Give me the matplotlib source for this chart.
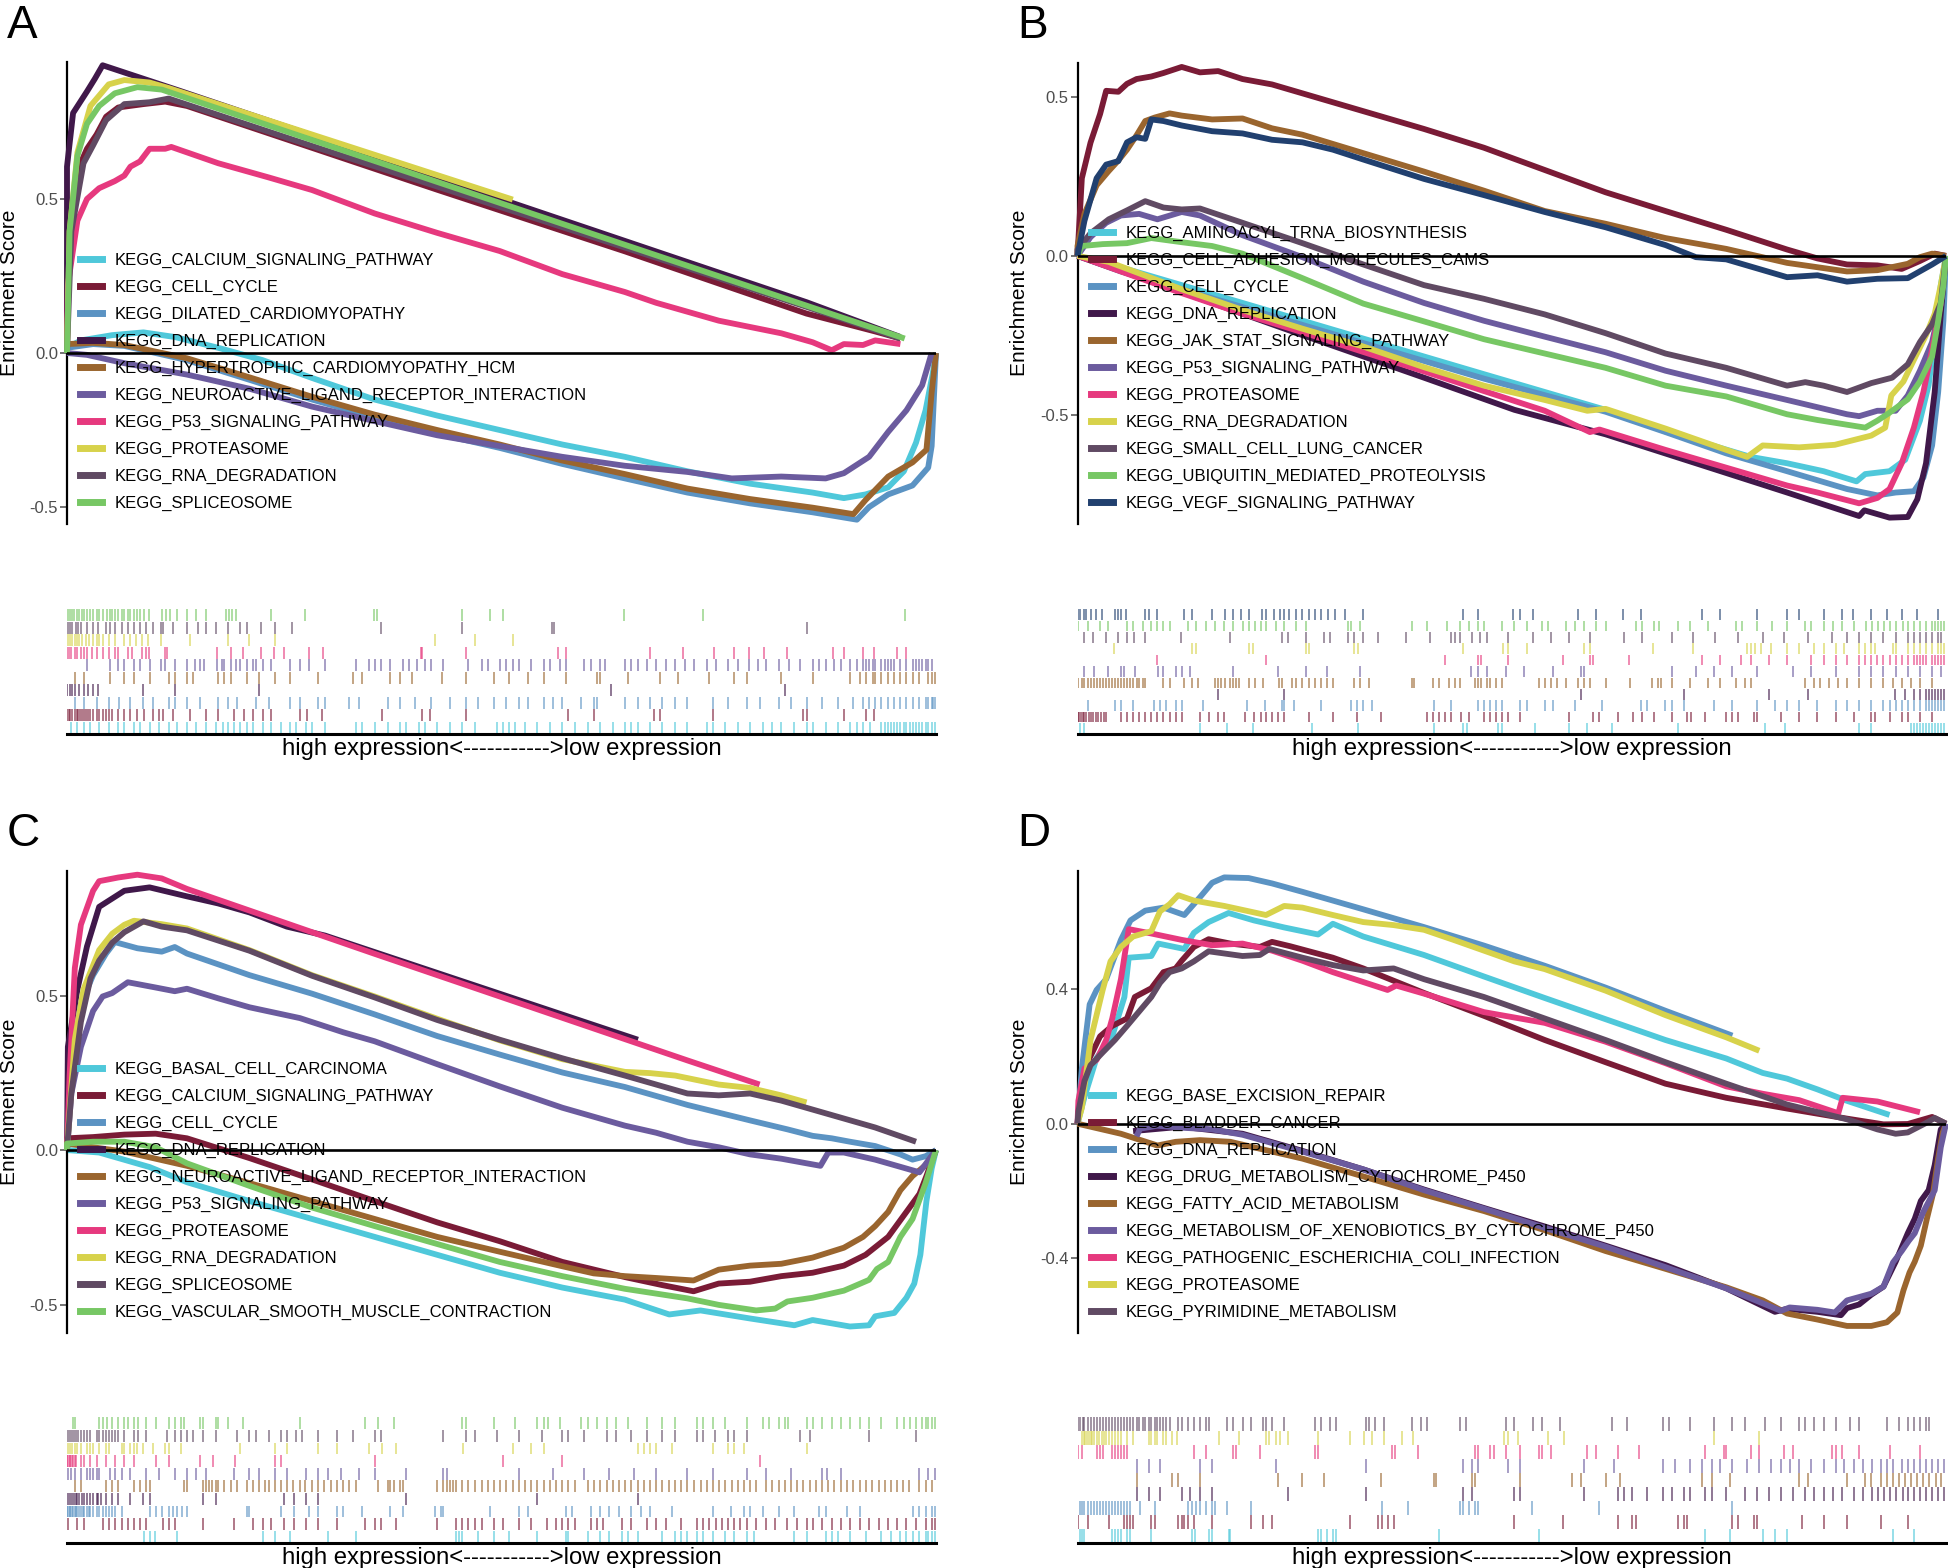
import matplotlib
matplotlib.use("Agg")
import matplotlib.pyplot as plt
from matplotlib.lines import Line2D

plt.rcParams['font.family'] = ['Liberation Sans', 'DejaVu Sans']
plt.rcParams['axes.unicode_minus'] = False

FIG_W, FIG_H = 1949, 1568

# x = position in the ranked gene list (% of list), es = running enrichment score
# hits = positions of the gene-set members in the ranked list (%)

# ---------------- panel A ----------------
a_calcium_x = [0, 1.6, 5.2, 8.8, 12.4, 17.4, 22.5, 28.2, 35.4, 42.6, 49.8, 57.0, 64.2, 71.4, 78.6, 85.8, 89.4, 91.9, 94.5, 96.3, 97.7, 98.8, 99.6, 100]
a_calcium_es = [0.017, 0.041, 0.058, 0.067, 0.052, 0.017, -0.023, -0.081, -0.151, -0.203, -0.250, -0.297, -0.337, -0.384, -0.424, -0.453, -0.471, -0.459, -0.436, -0.384, -0.291, -0.186, -0.070, 0]
a_calcium_hits = [0.5, 1.2, 1.9, 2.7, 3.7, 4.8, 5.9, 6.6, 7.7, 8.4, 9.5, 10.6, 11.7, 12.7, 13.8, 14.9, 16.0, 17.1, 18.0, 18.5, 19.2, 19.9, 20.7, 21.4, 22.5, 23.5, 24.6, 25.7, 26.4, 27.5, 28.2, 29.7, 33.3, 34.0, 35.4, 36.9, 38.3, 39.0, 40.5, 41.2, 42.6, 44.1, 45.5, 46.9, 49.5, 50.2, 50.9, 51.6, 52.7, 54.1, 55.6, 57.0, 58.5, 59.9, 61.3, 62.8, 64.2, 64.9, 65.7, 67.1, 68.5, 70.0, 71.4, 73.6, 74.3, 75.7, 77.2, 78.6, 80.1, 81.1, 82.2, 83.7, 85.1, 85.8, 87.3, 88.7, 90.1, 90.9, 91.6, 92.4, 93.7, 94.1, 94.5, 94.8, 95.2, 95.5, 95.9, 96.3, 96.6, 97.0, 97.3, 97.7, 98.1, 98.4, 98.8, 99.1, 99.5, 99.9]

a_cellcycle_x = [0, 0.1, 1.2, 2.3, 3.4, 4.5, 5.9, 8.8, 11.3, 13.8, 42.6, 64.2, 85.1, 93.0, 95.9]
a_cellcycle_es = [0, 0.337, 0.593, 0.663, 0.709, 0.767, 0.797, 0.808, 0.816, 0.802, 0.530, 0.330, 0.128, 0.070, 0.047]
a_cellcycle_hits = [0, 0.2, 0.4, 0.6, 0.9, 1.1, 1.3, 1.5, 1.7, 1.9, 2.2, 2.4, 2.7, 3.0, 3.4, 3.7, 4.1, 4.5, 4.8, 5.2, 5.9, 6.6, 7.3, 8.1, 8.9, 9.9, 10.6, 11.1, 12.2, 14.2, 16.0, 17.4, 19.2, 20.4, 21.4, 22.5, 23.5, 26.8, 27.6, 29.3, 36.3, 40.8, 41.8, 45.9, 57.6, 60.6, 67.5, 68.2, 74.3, 84.7, 85.1, 89.4, 91.9, 92.9]

a_dilated_x = [0, 3.0, 6.6, 13.8, 21.0, 28.2, 35.4, 42.6, 49.8, 57.0, 64.2, 71.4, 78.6, 85.8, 90.9, 92.3, 94.5, 97.3, 99.1, 99.5, 100]
a_dilated_es = [0.017, 0.029, 0.023, -0.023, -0.087, -0.151, -0.209, -0.262, -0.308, -0.360, -0.407, -0.453, -0.488, -0.517, -0.541, -0.500, -0.459, -0.430, -0.372, -0.302, 0]
a_dilated_hits = [0.9, 1.9, 3.4, 4.8, 6.0, 7.3, 8.8, 9.9, 11.7, 12.4, 13.8, 15.3, 17.4, 18.5, 19.6, 21.7, 23.2, 25.7, 26.8, 28.9, 29.7, 32.5, 33.6, 36.9, 38.3, 40.1, 41.9, 44.1, 45.9, 47.3, 49.1, 50.5, 52.0, 53.1, 54.9, 55.9, 57.0, 59.2, 60.6, 61.0, 64.2, 65.7, 67.1, 68.5, 70.0, 71.4, 74.3, 76.1, 78.3, 79.7, 81.9, 83.3, 85.1, 86.9, 88.7, 90.5, 91.6, 92.3, 93.0, 93.7, 94.5, 95.2, 95.9, 96.6, 97.3, 98.1, 98.8, 99.1, 99.5, 99.7, 99.9]

a_dnarep_x = [0, 0, 0.7, 2.3, 3.2, 4.1, 13.1, 85.1, 95.9]
a_dnarep_es = [0, 0.605, 0.779, 0.849, 0.890, 0.934, 0.850, 0.165, 0.052]
a_dnarep_hits = [0, 0.3, 0.6, 0.9, 1.4, 1.9, 2.4, 3.0, 3.6, 8.8, 12.4, 22.1, 62.6, 82.6]

a_hcm_x = [0, 3.0, 6.6, 13.8, 21.0, 28.2, 35.4, 42.6, 49.8, 57.0, 64.2, 71.4, 78.6, 85.8, 90.5, 91.9, 94.5, 97.3, 98.9, 99.5, 100]
a_hcm_es = [0.029, 0.033, 0.026, -0.017, -0.079, -0.142, -0.200, -0.250, -0.297, -0.349, -0.393, -0.440, -0.474, -0.502, -0.523, -0.477, -0.401, -0.355, -0.314, -0.128, 0]
a_hcm_hits = [0.9, 1.9, 5.0, 6.6, 7.7, 9.5, 11.7, 12.4, 13.8, 14.5, 17.4, 18.1, 18.9, 20.7, 22.1, 23.9, 25.7, 28.9, 32.9, 34.0, 37.2, 38.3, 39.7, 43.2, 45.9, 49.1, 50.9, 53.1, 54.9, 57.4, 61.0, 61.3, 64.6, 68.2, 70.3, 73.9, 76.8, 78.3, 82.2, 85.8, 90.1, 91.2, 91.9, 92.7, 93.0, 93.7, 94.5, 95.2, 95.9, 96.6, 97.3, 98.1, 99.1, 99.5, 99.9]

a_neuro_x = [0, 2.3, 6.6, 13.8, 21.0, 28.2, 35.4, 42.6, 49.8, 57.0, 64.2, 71.4, 76.5, 82.2, 87.3, 89.4, 92.3, 94.5, 96.6, 98.4, 99.5]
a_neuro_es = [0, -0.006, -0.033, -0.070, -0.116, -0.174, -0.221, -0.267, -0.302, -0.337, -0.366, -0.386, -0.407, -0.401, -0.407, -0.390, -0.337, -0.256, -0.186, -0.105, 0.0]
a_neuro_hits = [2.3, 5.0, 5.9, 6.6, 7.7, 8.4, 9.5, 10.8, 11.3, 12.4, 13.8, 14.7, 15.3, 15.8, 17.3, 17.8, 18.1, 18.9, 19.4, 19.9, 20.7, 21.4, 21.7, 22.5, 23.5, 25.7, 26.8, 27.9, 29.7, 33.3, 34.7, 35.4, 36.1, 37.2, 38.7, 39.4, 40.3, 41.2, 41.9, 43.3, 46.2, 47.7, 48.4, 49.8, 50.5, 51.3, 52.0, 53.4, 54.9, 55.6, 56.7, 57.4, 59.5, 60.3, 61.3, 61.9, 64.2, 64.9, 65.7, 66.7, 67.8, 68.9, 70.0, 71.1, 72.1, 73.6, 74.7, 76.1, 77.2, 78.5, 79.5, 80.4, 81.9, 83.1, 84.4, 85.8, 86.5, 87.3, 88.3, 89.1, 90.1, 90.9, 91.6, 91.9, 92.3, 92.7, 93.0, 93.7, 94.1, 94.5, 94.8, 95.2, 95.9, 96.6, 97.3, 97.7, 98.1, 98.4, 98.8, 99.1, 99.5]

a_p53_x = [0, 0.1, 1.2, 2.3, 3.7, 5.5, 6.6, 7.3, 8.4, 9.5, 11.3, 12.0, 17.4, 23.2, 28.2, 35.4, 42.6, 49.8, 57.0, 64.2, 67.8, 75.0, 82.2, 85.8, 88.0, 89.4, 91.6, 93.0, 95.9]
a_p53_es = [0, 0.221, 0.430, 0.500, 0.535, 0.558, 0.576, 0.605, 0.622, 0.663, 0.663, 0.669, 0.616, 0.570, 0.529, 0.453, 0.390, 0.331, 0.256, 0.198, 0.163, 0.105, 0.064, 0.035, 0.009, 0.029, 0.026, 0.041, 0.029]
a_p53_hits = [0, 0.2, 0.5, 0.9, 1.2, 1.6, 1.9, 2.3, 2.9, 3.4, 4.1, 4.8, 5.5, 5.9, 7.0, 7.5, 8.6, 9.1, 9.4, 11.3, 11.5, 17.3, 18.9, 20.3, 22.3, 23.8, 25.0, 27.9, 29.5, 40.7, 40.8, 45.9, 56.5, 57.4, 67.1, 70.9, 74.5, 76.7, 78.5, 80.2, 82.8, 88.2, 89.4, 91.6, 92.9, 95.5, 96.5]

a_proteasome_x = [0, 0.3, 1.2, 2.7, 4.8, 6.6, 9.5, 11.7, 51.3]
a_proteasome_es = [0, 0.395, 0.651, 0.802, 0.872, 0.886, 0.878, 0.860, 0.498]
a_proteasome_hits = [0.1, 0.4, 0.6, 0.9, 1.2, 1.4, 1.7, 2.2, 2.5, 3.0, 3.4, 3.7, 4.2, 4.8, 5.5, 6.6, 7.3, 7.9, 8.6, 9.3, 10.8, 14.2, 18.5, 20.9, 23.9, 42.3, 46.9, 51.3]

a_rnadeg_x = [0, 0.5, 1.9, 3.0, 4.5, 6.6, 9.5, 11.7, 28.2, 56.3, 85.1, 95.9]
a_rnadeg_es = [0, 0.395, 0.616, 0.674, 0.756, 0.808, 0.814, 0.826, 0.672, 0.415, 0.150, 0.047]
a_rnadeg_hits = [0.1, 0.4, 0.6, 1.0, 1.3, 1.6, 2.3, 3.0, 3.6, 4.5, 5.0, 5.5, 6.3, 7.0, 7.7, 8.4, 9.1, 9.9, 10.8, 11.1, 12.2, 13.8, 15.1, 16.0, 17.1, 18.5, 19.9, 20.7, 22.3, 23.9, 25.9, 36.1, 45.4, 55.8, 56.0, 85.2]

a_splice_x = [0, 0.3, 1.2, 2.3, 3.7, 5.5, 8.1, 10.9, 96.4]
a_splice_es = [0, 0.395, 0.640, 0.744, 0.802, 0.843, 0.863, 0.855, 0.047]
a_splice_hits = [0.1, 0.4, 0.6, 0.8, 1.1, 1.4, 1.7, 1.9, 2.3, 2.7, 3.0, 3.4, 3.7, 4.1, 4.6, 4.9, 5.2, 5.5, 5.9, 6.3, 6.6, 7.0, 7.3, 7.7, 8.1, 8.4, 8.9, 9.4, 10.9, 11.4, 11.8, 12.7, 13.8, 14.9, 16.0, 18.3, 18.6, 19.0, 19.4, 23.5, 27.4, 35.3, 35.7, 45.5, 48.7, 50.2, 64.1, 73.2, 96.4]

# ---------------- panel B ----------------
b_aminoacyl_x = [0, 5.0, 19.0, 32.9, 46.8, 60.8, 67.7, 77.5, 81.7, 85.9, 89.7, 90.7, 93.5, 95.3, 97.0, 98.0, 98.7, 99.4, 100]
b_aminoacyl_es = [0, -0.036, -0.148, -0.260, -0.372, -0.484, -0.552, -0.632, -0.652, -0.677, -0.709, -0.686, -0.677, -0.641, -0.518, -0.406, -0.260, -0.092, 0]
b_aminoacyl_hits = [0.3, 0.7, 14.1, 17.2, 20.2, 27.0, 32.3, 41.1, 44.4, 44.9, 48.4, 48.9, 52.7, 56.6, 58.7, 61.5, 69.1, 79.2, 81.5, 90.0, 91.4, 96.0, 96.3, 96.7, 97.0, 97.4, 97.7, 98.1, 98.4, 98.7, 99.1, 99.4, 99.8]

b_celladh_x = [0, 0.5, 1.5, 2.6, 3.3, 4.7, 5.7, 6.8, 8.5, 9.9, 12.0, 14.1, 16.2, 19.0, 22.4, 25.9, 32.9, 39.9, 46.8, 53.8, 60.8, 67.7, 74.7, 81.7, 85.2, 88.6, 92.1, 94.9, 97.0, 98.7, 100]
b_celladh_es = [0, 0.244, 0.356, 0.446, 0.519, 0.516, 0.541, 0.556, 0.564, 0.575, 0.594, 0.577, 0.581, 0.556, 0.539, 0.511, 0.455, 0.399, 0.340, 0.270, 0.200, 0.141, 0.082, 0.020, -0.008, -0.027, -0.030, -0.041, -0.016, 0.007, 0]
b_celladh_hits = [0, 0.2, 0.4, 0.6, 0.8, 1.0, 1.3, 1.5, 1.8, 2.1, 2.4, 2.7, 3.0, 3.3, 5.0, 5.7, 6.4, 7.1, 7.8, 8.5, 9.2, 9.9, 10.6, 11.3, 12.0, 14.1, 15.1, 16.2, 16.9, 19.3, 20.3, 21.1, 21.7, 22.4, 23.1, 23.8, 26.6, 29.4, 32.2, 35.0, 40.2, 40.9, 41.6, 42.3, 43.0, 44.1, 45.1, 46.8, 47.5, 48.2, 48.9, 49.6, 51.0, 56.6, 59.4, 60.1, 62.2, 64.0, 65.0, 66.4, 68.5, 70.2, 70.6, 72.3, 74.7, 75.4, 76.1, 77.9, 78.2, 81.0, 83.1, 85.2, 87.3, 89.4, 91.4, 91.8, 93.5, 94.9, 95.6, 97.0, 98.4]

b_cellcycle_x = [0, 5.0, 19.0, 32.9, 46.8, 60.8, 67.7, 74.7, 81.7, 88.6, 92.1, 94.2, 96.3, 97.4, 98.4, 99.1, 99.7, 100]
b_cellcycle_es = [0, -0.049, -0.161, -0.274, -0.386, -0.490, -0.554, -0.621, -0.677, -0.733, -0.753, -0.744, -0.740, -0.697, -0.596, -0.428, -0.204, 0]
b_cellcycle_hits = [1.2, 4.3, 5.0, 6.4, 8.8, 9.5, 10.2, 11.3, 12.0, 14.4, 19.5, 21.6, 23.5, 23.8, 24.9, 28.0, 31.5, 32.2, 32.9, 33.9, 41.1, 43.0, 46.1, 46.8, 47.5, 48.2, 48.9, 51.0, 51.7, 53.8, 54.8, 57.3, 60.4, 64.9, 65.6, 67.7, 68.4, 69.8, 73.3, 75.4, 78.2, 80.3, 81.7, 83.1, 85.2, 87.3, 88.6, 90.0, 91.4, 92.8, 93.5, 94.2, 94.9, 95.6, 96.3, 97.0, 97.7, 98.0, 98.4, 98.7, 99.1, 99.4, 99.8]

b_dnarep_x = [0, 12.0, 25.9, 39.9, 50.3, 60.8, 71.2, 81.7, 90.0, 90.6, 93.5, 95.6, 96.7, 97.7, 98.7, 99.4, 100]
b_dnarep_es = [0, -0.114, -0.249, -0.383, -0.484, -0.561, -0.652, -0.744, -0.818, -0.800, -0.823, -0.821, -0.765, -0.652, -0.428, -0.182, 0]
b_dnarep_hits = [16.2, 23.8, 58.0, 69.8, 79.6, 84.1, 94.1, 95.3, 96.3, 97.0, 97.7, 98.0, 98.4, 98.7, 99.1, 99.4, 99.8]

b_jak_x = [0, 0, 0.8, 2.2, 3.6, 4.7, 5.7, 6.8, 7.8, 8.9, 10.6, 12.0, 15.5, 19.0, 22.4, 25.9, 32.9, 39.9, 46.8, 53.8, 60.8, 67.7, 74.7, 81.7, 88.6, 92.1, 95.6, 97.0, 98.4, 100]
b_jak_es = [0, 0.031, 0.132, 0.222, 0.267, 0.300, 0.334, 0.379, 0.424, 0.435, 0.448, 0.441, 0.429, 0.432, 0.401, 0.381, 0.323, 0.265, 0.205, 0.141, 0.101, 0.056, 0.022, -0.022, -0.049, -0.045, -0.025, -0.004, 0.007, 0]
b_jak_hits = [0.1, 0.5, 0.8, 1.2, 1.5, 1.9, 2.2, 2.6, 2.9, 3.3, 3.6, 4.0, 4.3, 4.7, 5.0, 5.4, 5.7, 6.1, 6.4, 6.8, 7.1, 7.5, 7.8, 9.8, 10.6, 12.3, 13.2, 13.9, 15.8, 16.2, 16.5, 17.0, 17.6, 17.9, 18.3, 18.6, 19.7, 20.4, 21.4, 23.2, 23.5, 24.7, 25.2, 25.9, 26.6, 27.3, 28.0, 28.7, 29.4, 31.8, 32.5, 33.6, 38.5, 38.8, 40.9, 41.6, 42.8, 43.5, 44.0, 45.8, 46.1, 46.5, 47.2, 47.5, 48.2, 48.9, 53.1, 53.8, 54.5, 55.2, 56.2, 57.6, 58.3, 59.0, 60.8, 63.6, 66.1, 66.8, 67.2, 68.5, 70.5, 72.6, 74.0, 75.8, 76.8, 77.5, 83.8, 84.8, 85.5, 86.5, 87.6, 88.6, 90.0, 91.4, 92.8, 93.9, 94.9, 96.0, 97.0, 98.4]

b_p53_x = [0, 1.5, 3.3, 5.0, 7.1, 9.2, 12.0, 14.1, 19.0, 25.9, 32.9, 39.9, 46.8, 53.8, 60.8, 67.7, 74.7, 81.7, 88.6, 90.0, 92.1, 94.2, 95.6, 97.0, 98.4, 99.4, 100]
b_p53_es = [0, 0.059, 0.104, 0.127, 0.132, 0.115, 0.138, 0.127, 0.065, -0.004, -0.081, -0.148, -0.204, -0.254, -0.303, -0.361, -0.408, -0.453, -0.498, -0.504, -0.487, -0.487, -0.439, -0.361, -0.271, -0.148, 0]
b_p53_hits = [0.7, 1.9, 3.5, 5.0, 5.4, 6.6, 9.3, 9.9, 11.3, 12.0, 13.0, 17.9, 23.1, 26.3, 28.7, 32.5, 45.3, 46.1, 47.2, 49.3, 51.4, 54.8, 58.0, 58.3, 68.4, 71.2, 73.3, 75.4, 78.2, 82.4, 84.5, 87.3, 90.0, 91.4, 92.8, 94.2, 95.6, 97.0, 98.4, 99.4]

b_proteasome_x = [0, 5.0, 12.0, 19.0, 25.9, 32.9, 39.9, 46.8, 53.8, 59.0, 60.1, 67.7, 74.7, 81.7, 85.2, 90.0, 92.1, 93.5, 94.9, 96.3, 97.4, 98.4, 99.4, 100]
b_proteasome_es = [0, -0.049, -0.117, -0.182, -0.240, -0.302, -0.363, -0.425, -0.487, -0.554, -0.546, -0.610, -0.666, -0.722, -0.744, -0.778, -0.761, -0.733, -0.652, -0.540, -0.428, -0.294, -0.148, 0]
b_proteasome_hits = [9.2, 21.7, 42.3, 46.1, 46.5, 49.6, 55.9, 59.0, 59.4, 63.5, 71.9, 74.0, 76.4, 77.5, 79.6, 81.7, 84.5, 85.9, 87.3, 88.6, 90.0, 90.7, 91.4, 92.1, 92.8, 93.5, 94.2, 94.9, 95.6, 96.3, 96.7, 97.0, 97.4, 97.7, 98.4, 98.7, 99.1, 99.4, 99.8]

b_rnadeg_x = [0, 3.6, 12.0, 19.0, 25.9, 32.9, 39.9, 46.8, 53.8, 58.7, 60.8, 67.7, 74.7, 77.1, 78.9, 83.1, 87.2, 91.4, 93.0, 93.7, 95.1, 96.3, 97.7, 98.7, 99.4, 100]
b_rnadeg_es = [0, -0.019, -0.105, -0.170, -0.229, -0.285, -0.350, -0.408, -0.453, -0.487, -0.481, -0.543, -0.610, -0.632, -0.596, -0.602, -0.594, -0.565, -0.540, -0.439, -0.395, -0.327, -0.249, -0.182, -0.092, 0]
b_rnadeg_hits = [4.2, 13.2, 13.7, 19.8, 20.2, 26.3, 26.6, 31.8, 32.3, 44.4, 49.0, 49.6, 51.8, 58.3, 59.0, 66.3, 70.9, 77.1, 77.5, 78.0, 78.7, 79.9, 81.7, 83.1, 84.8, 85.9, 87.3, 88.3, 90.0, 90.7, 91.4, 91.8, 93.9, 94.3, 95.6, 96.3, 97.0, 97.7, 98.4, 99.1, 99.4, 99.8]

b_smallcell_x = [0, 0, 1.5, 3.6, 5.7, 7.8, 9.9, 12.0, 14.1, 19.0, 25.9, 32.9, 39.9, 46.8, 53.8, 60.8, 67.7, 74.7, 81.7, 83.8, 85.9, 88.6, 91.4, 93.8, 95.6, 97.0, 98.4, 99.4, 100]
b_smallcell_es = [0, 0.020, 0.071, 0.115, 0.143, 0.172, 0.152, 0.146, 0.149, 0.104, 0.040, -0.027, -0.092, -0.135, -0.184, -0.243, -0.307, -0.352, -0.408, -0.397, -0.408, -0.428, -0.400, -0.383, -0.341, -0.271, -0.215, -0.148, 0]
b_smallcell_hits = [0.7, 1.8, 3.3, 4.7, 5.7, 6.5, 7.8, 11.9, 17.6, 23.5, 24.2, 26.3, 28.4, 29.1, 31.2, 31.8, 32.9, 34.6, 37.8, 40.6, 43.0, 43.5, 44.0, 45.4, 46.3, 47.2, 49.6, 52.4, 54.5, 56.6, 59.0, 62.9, 65.0, 68.4, 70.9, 73.4, 76.1, 78.9, 81.3, 84.1, 86.9, 88.6, 90.0, 91.4, 92.8, 94.2, 95.6, 96.3, 97.0, 97.7, 98.4, 99.1, 99.4]

b_ubiq_x = [0, 0.5, 2.9, 5.7, 8.5, 12.0, 15.5, 19.0, 25.9, 32.9, 39.9, 46.8, 53.8, 60.8, 67.7, 74.7, 81.7, 85.2, 90.7, 92.1, 93.5, 95.6, 97.0, 98.4, 99.1, 99.7, 100]
b_ubiq_es = [0, 0.031, 0.037, 0.040, 0.056, 0.043, 0.031, 0.007, -0.070, -0.150, -0.206, -0.262, -0.307, -0.352, -0.408, -0.442, -0.498, -0.516, -0.540, -0.518, -0.493, -0.451, -0.395, -0.316, -0.204, -0.092, 0]
b_ubiq_hits = [0.1, 1.2, 2.6, 3.5, 5.7, 6.4, 7.5, 8.5, 9.1, 9.9, 10.6, 12.7, 13.7, 14.8, 15.8, 16.9, 17.9, 19.0, 19.7, 20.4, 21.1, 21.7, 22.8, 23.8, 25.2, 26.3, 31.1, 31.5, 32.5, 38.5, 40.2, 42.6, 44.0, 45.1, 46.1, 46.8, 48.9, 50.3, 51.7, 53.5, 54.2, 56.2, 57.3, 58.3, 59.7, 60.8, 64.3, 65.0, 66.4, 67.0, 69.1, 70.5, 72.6, 75.8, 76.5, 78.2, 80.0, 81.7, 83.8, 84.5, 85.9, 87.0, 88.0, 89.4, 90.8, 91.5, 92.2, 92.9, 93.6, 94.3, 95.0, 95.6, 96.3, 97.0, 97.7, 98.4, 98.7, 99.1, 99.4, 99.8]

b_vegf_x = [0, 0.8, 2.2, 3.3, 4.7, 5.7, 6.8, 7.8, 8.5, 9.9, 12.0, 15.5, 19.0, 22.4, 25.9, 29.4, 32.9, 39.9, 46.8, 53.8, 60.8, 67.7, 71.2, 74.7, 81.7, 85.2, 88.6, 92.1, 95.6, 98.4, 100]
b_vegf_es = [0, 0.110, 0.244, 0.287, 0.298, 0.357, 0.373, 0.368, 0.429, 0.424, 0.410, 0.392, 0.385, 0.365, 0.357, 0.334, 0.303, 0.242, 0.191, 0.138, 0.090, 0.034, -0.004, -0.011, -0.067, -0.061, -0.081, -0.072, -0.070, -0.027, 0]
b_vegf_hits = [0, 0.3, 0.7, 1.0, 1.5, 2.1, 2.8, 4.3, 4.7, 5.0, 5.6, 7.8, 8.2, 9.1, 12.3, 13.2, 15.5, 17.0, 17.9, 18.8, 19.7, 21.2, 21.7, 22.6, 23.3, 23.8, 24.4, 25.2, 25.9, 26.6, 27.3, 28.0, 28.8, 29.7, 30.8, 32.9, 44.4, 46.1, 50.2, 50.9, 52.4, 57.6, 59.7, 62.8, 64.9, 71.9, 74.0, 78.2, 81.7, 83.1, 85.9, 88.0, 89.3, 91.4, 93.2, 94.9, 96.7, 99.1]

# ---------------- panel C ----------------
c_basal_x = [0, 3.7, 9.5, 13.8, 21.0, 28.2, 35.4, 42.6, 49.8, 57.0, 64.2, 69.3, 72.9, 78.6, 83.7, 85.8, 90.1, 92.3, 93.0, 95.2, 96.6, 97.5, 98.2, 98.9, 99.5, 100]
c_basal_es = [0, -0.008, -0.055, -0.104, -0.165, -0.223, -0.281, -0.339, -0.397, -0.445, -0.484, -0.532, -0.519, -0.545, -0.567, -0.550, -0.571, -0.567, -0.538, -0.527, -0.478, -0.432, -0.339, -0.165, -0.060, 0]
c_basal_hits = [8.9, 9.5, 10.1, 12.7, 22.5, 23.9, 25.7, 30.0, 33.3, 44.8, 45.1, 45.5, 47.3, 49.1, 50.9, 54.1, 57.4, 57.7, 59.9, 61.3, 62.4, 63.9, 64.6, 65.7, 68.5, 70.0, 70.7, 71.4, 72.5, 73.2, 74.3, 75.7, 76.8, 78.3, 79.0, 83.7, 85.1, 87.3, 88.0, 88.7, 90.1, 91.9, 93.7, 94.8, 95.9, 96.6, 97.3, 98.1, 98.8, 99.1, 99.5, 99.9]

c_calcium_x = [0, 0, 3.0, 6.6, 10.2, 13.8, 21.0, 28.2, 35.4, 42.6, 49.8, 57.0, 64.2, 68.5, 72.1, 75.0, 78.6, 82.2, 85.8, 89.4, 91.9, 94.5, 96.6, 98.1, 98.9, 99.5, 100]
c_calcium_es = [0, 0.038, 0.042, 0.050, 0.053, 0.038, -0.026, -0.095, -0.165, -0.234, -0.295, -0.362, -0.411, -0.437, -0.457, -0.432, -0.426, -0.408, -0.397, -0.374, -0.339, -0.281, -0.200, -0.142, -0.084, -0.037, 0]
c_calcium_hits = [0.1, 1.2, 1.9, 4.1, 4.8, 5.5, 6.3, 7.0, 7.7, 8.4, 9.1, 11.1, 11.7, 12.4, 15.6, 19.2, 21.4, 22.5, 23.5, 25.0, 26.1, 27.5, 28.9, 31.1, 34.3, 35.4, 36.1, 37.9, 42.6, 44.8, 45.5, 46.2, 46.9, 47.7, 49.1, 50.2, 52.0, 53.4, 55.2, 56.3, 57.0, 57.7, 58.5, 60.3, 61.0, 61.7, 63.9, 64.9, 66.7, 67.8, 68.9, 70.7, 72.5, 73.2, 73.9, 74.7, 75.4, 76.1, 76.8, 77.5, 78.3, 79.3, 80.4, 81.5, 82.9, 84.0, 85.1, 85.8, 86.9, 88.0, 89.1, 90.1, 91.2, 92.3, 93.4, 94.5, 95.5, 96.6, 97.7, 98.8, 99.5, 99.9]

c_cellcycle_x = [0, 0.5, 1.6, 3.0, 4.5, 5.5, 8.1, 10.9, 12.4, 13.8, 21.0, 28.2, 35.4, 42.6, 49.8, 57.0, 64.2, 71.4, 78.6, 82.9, 85.8, 88.0, 90.1, 93.0, 95.9, 97.3, 98.8, 100]
c_cellcycle_es = [0, 0.241, 0.473, 0.566, 0.636, 0.673, 0.653, 0.642, 0.657, 0.636, 0.566, 0.506, 0.439, 0.369, 0.309, 0.251, 0.204, 0.146, 0.096, 0.067, 0.046, 0.038, 0.027, 0.013, -0.014, -0.031, -0.020, 0]
c_cellcycle_hits = [0, 0.1, 0.3, 0.4, 0.6, 0.7, 0.9, 1.0, 1.2, 1.4, 1.6, 1.8, 2.0, 2.3, 2.5, 2.7, 3.0, 3.4, 3.7, 4.1, 4.5, 4.8, 5.2, 5.5, 6.3, 9.5, 10.2, 10.9, 11.7, 12.2, 12.7, 13.2, 13.8, 20.7, 21.0, 24.6, 26.1, 27.9, 28.9, 31.1, 31.8, 34.0, 37.2, 38.7, 42.3, 43.0, 43.3, 48.7, 52.0, 53.1, 57.4, 58.1, 60.3, 61.3, 62.4, 63.5, 64.9, 66.0, 67.1, 69.6, 74.3, 76.4, 77.9, 78.6, 80.1, 81.9, 83.7, 86.5, 87.3, 89.8, 91.2, 97.3, 98.1, 98.8, 99.5, 99.9]

c_dnarep_x = [0, 0.1, 1.2, 2.3, 3.7, 6.6, 9.5, 13.8, 17.4, 21.0, 25.3, 29.7, 65.7]
c_dnarep_es = [0, 0.334, 0.520, 0.659, 0.787, 0.839, 0.850, 0.821, 0.798, 0.769, 0.723, 0.694, 0.357]
c_dnarep_hits = [0.1, 0.4, 0.6, 0.8, 1.0, 1.2, 1.4, 1.7, 2.0, 2.3, 2.7, 3.0, 3.4, 3.6, 3.9, 4.5, 5.2, 5.9, 7.3, 8.8, 9.5, 15.6, 17.1, 25.0, 26.1, 27.5, 28.9, 39.0, 54.1, 65.7]

c_neuro_x = [0, 0, 3.0, 6.6, 13.8, 21.0, 28.2, 35.4, 42.6, 49.8, 57.0, 60.6, 64.2, 67.8, 72.1, 75.0, 78.6, 82.2, 85.8, 89.4, 91.6, 93.0, 94.5, 95.9, 97.3, 98.8, 100]
c_neuro_es = [0, 0.021, 0.009, -0.005, -0.051, -0.107, -0.165, -0.223, -0.281, -0.329, -0.376, -0.399, -0.408, -0.414, -0.422, -0.387, -0.374, -0.368, -0.348, -0.316, -0.281, -0.246, -0.200, -0.130, -0.084, -0.049, 0]
c_neuro_hits = [0.9, 1.6, 4.5, 5.2, 5.9, 7.7, 8.4, 9.1, 9.5, 13.5, 13.8, 15.6, 16.0, 16.3, 16.7, 17.1, 17.4, 18.1, 18.9, 19.6, 20.7, 21.4, 22.1, 22.8, 23.2, 23.9, 24.6, 25.3, 26.0, 26.8, 27.4, 28.2, 28.9, 29.6, 30.4, 31.1, 31.8, 32.5, 33.3, 35.8, 36.9, 37.2, 37.6, 38.3, 38.7, 42.6, 43.3, 43.7, 44.1, 44.4, 44.8, 45.5, 46.2, 46.9, 47.7, 48.4, 49.1, 49.8, 50.5, 51.3, 52.0, 52.7, 53.4, 54.1, 54.9, 55.6, 56.3, 57.0, 57.7, 58.5, 59.9, 60.6, 61.3, 62.1, 62.8, 63.5, 64.2, 64.9, 65.7, 66.4, 67.1, 67.8, 68.5, 69.3, 70.0, 70.7, 71.4, 72.1, 72.9, 73.6, 74.3, 75.0, 75.7, 76.5, 77.2, 77.9, 78.6, 79.3, 80.4, 81.1, 81.9, 82.6, 83.3, 84.0, 84.7, 85.5, 86.2, 86.9, 87.6, 88.3, 89.1, 89.8, 90.5, 91.2, 91.9, 92.6, 93.4, 94.1, 94.8, 95.5, 96.2, 96.9, 98.0, 98.8, 99.5]

c_p53_x = [0, 0.5, 1.6, 3.0, 4.1, 5.2, 7.0, 10.2, 12.4, 13.8, 17.4, 21.0, 26.8, 31.8, 35.4, 42.6, 49.8, 57.0, 64.2, 67.8, 71.4, 75.0, 78.6, 82.2, 86.7, 87.6, 89.4, 93.0, 98.1, 100]
c_p53_es = [0, 0.183, 0.334, 0.450, 0.497, 0.508, 0.543, 0.526, 0.514, 0.522, 0.491, 0.462, 0.427, 0.381, 0.352, 0.278, 0.206, 0.137, 0.079, 0.056, 0.027, 0.009, -0.014, -0.028, -0.051, -0.008, -0.008, -0.031, -0.072, 0]
c_p53_hits = [0.1, 0.5, 0.9, 1.6, 2.3, 2.7, 3.0, 3.4, 3.7, 5.0, 5.5, 6.3, 7.3, 9.1, 10.6, 12.4, 13.8, 14.9, 16.0, 19.2, 21.0, 22.1, 23.9, 25.3, 27.5, 28.9, 30.0, 31.5, 33.6, 35.4, 39.0, 43.3, 43.7, 52.0, 55.9, 59.5, 62.4, 65.3, 67.8, 71.4, 74.3, 78.3, 80.4, 83.3, 86.9, 87.4, 89.1, 98.1, 99.1, 99.9]

c_proteasome_x = [0, 0.3, 0.9, 1.6, 3.0, 3.7, 5.9, 8.1, 10.9, 13.8, 21.0, 28.2, 35.4, 42.6, 49.8, 57.0, 64.2, 71.4, 79.7]
c_proteasome_es = [0, 0.241, 0.589, 0.729, 0.839, 0.870, 0.882, 0.891, 0.879, 0.845, 0.775, 0.705, 0.635, 0.566, 0.497, 0.428, 0.359, 0.290, 0.212]
c_proteasome_hits = [0, 0.1, 0.3, 0.4, 0.6, 0.7, 0.9, 1.0, 1.6, 1.9, 2.7, 3.4, 4.5, 5.5, 6.6, 7.7, 10.2, 11.7, 15.3, 16.8, 19.3, 23.9, 24.6, 35.4, 50.2, 57.0, 79.7]

c_rnadeg_x = [0, 0.3, 0.9, 1.9, 3.7, 5.2, 6.6, 7.7, 10.9, 13.8, 21.0, 28.2, 35.4, 42.6, 49.8, 57.0, 64.2, 67.1, 70.0, 75.0, 78.6, 82.2, 85.1]
c_rnadeg_es = [0, 0.125, 0.357, 0.520, 0.647, 0.700, 0.729, 0.742, 0.731, 0.717, 0.647, 0.566, 0.497, 0.425, 0.355, 0.294, 0.253, 0.249, 0.241, 0.212, 0.201, 0.177, 0.154]
c_rnadeg_hits = [0.1, 0.4, 0.6, 0.9, 1.2, 1.6, 2.3, 2.7, 3.0, 3.7, 4.5, 4.8, 6.3, 6.6, 7.3, 7.7, 8.1, 8.8, 9.9, 11.3, 11.7, 13.1, 19.9, 23.9, 25.3, 28.9, 31.1, 34.7, 36.3, 37.9, 45.6, 51.3, 53.4, 54.9, 65.7, 66.4, 67.1, 67.8, 69.6, 74.3, 76.1, 76.8, 77.9, 85.1]

c_splice_x = [0, 0.5, 1.6, 2.7, 3.7, 5.2, 6.6, 8.8, 10.9, 13.8, 21.0, 28.2, 35.4, 42.6, 49.8, 57.0, 64.2, 71.4, 75.0, 78.6, 82.2, 85.8, 89.4, 93.0, 97.7]
c_splice_es = [0, 0.183, 0.415, 0.555, 0.613, 0.671, 0.705, 0.740, 0.723, 0.711, 0.645, 0.564, 0.494, 0.421, 0.357, 0.297, 0.241, 0.183, 0.177, 0.183, 0.160, 0.131, 0.102, 0.073, 0.027]
c_splice_hits = [0.1, 0.4, 0.6, 0.8, 1.0, 1.3, 1.6, 1.9, 2.3, 2.7, 3.4, 3.7, 4.1, 4.5, 4.8, 5.2, 5.5, 5.9, 6.6, 7.7, 8.2, 9.1, 11.5, 12.4, 13.1, 13.8, 14.5, 15.6, 17.1, 19.6, 21.0, 21.7, 23.2, 24.6, 25.3, 26.4, 27.1, 28.9, 31.1, 32.9, 35.4, 36.1, 43.3, 45.9, 47.0, 49.5, 52.0, 54.7, 57.0, 57.7, 59.5, 62.1, 63.2, 64.9, 66.7, 68.5, 70.0, 72.5, 73.2, 74.6, 76.1, 76.8, 78.3, 84.4, 85.5, 92.3, 97.7]

c_vascular_x = [0, 0, 3.0, 6.6, 10.2, 13.8, 21.0, 28.2, 35.4, 42.6, 49.8, 57.0, 64.2, 71.4, 75.0, 79.3, 81.5, 82.9, 85.8, 89.4, 92.3, 93.2, 94.5, 95.9, 97.3, 98.8, 100]
c_vascular_es = [0, 0.021, 0.027, 0.027, 0.009, -0.043, -0.116, -0.186, -0.246, -0.304, -0.362, -0.408, -0.449, -0.480, -0.501, -0.519, -0.513, -0.490, -0.478, -0.455, -0.420, -0.385, -0.362, -0.281, -0.223, -0.107, 0]
c_vascular_hits = [0.7, 0.9, 3.7, 4.1, 4.6, 5.2, 5.9, 6.6, 7.0, 7.7, 8.2, 9.1, 10.2, 11.7, 12.4, 13.1, 13.5, 15.3, 15.6, 17.1, 17.4, 18.5, 20.3, 26.8, 34.3, 35.8, 37.6, 45.5, 45.9, 49.1, 51.6, 54.1, 54.9, 55.4, 56.7, 59.2, 59.9, 61.0, 62.1, 63.2, 64.6, 66.7, 68.5, 70.0, 72.5, 73.2, 74.3, 75.7, 78.3, 80.1, 80.8, 81.9, 82.6, 83.0, 85.1, 85.8, 86.9, 88.0, 89.1, 90.1, 91.2, 92.3, 93.7, 95.5, 96.3, 97.0, 97.7, 98.4, 98.8, 99.1, 99.5, 99.9]

# ---------------- panel D ----------------
d_base_x = [0, 0.8, 2.2, 4.0, 5.4, 5.9, 8.5, 9.3, 12.3, 13.4, 15.1, 17.4, 20.3, 23.8, 27.7, 29.4, 32.9, 39.9, 46.8, 53.8, 60.8, 67.7, 74.7, 78.9, 81.7, 85.2, 88.6, 93.5]
d_base_es = [0, 0.079, 0.196, 0.260, 0.377, 0.494, 0.499, 0.536, 0.520, 0.568, 0.600, 0.627, 0.605, 0.584, 0.563, 0.595, 0.557, 0.502, 0.438, 0.374, 0.311, 0.249, 0.194, 0.151, 0.134, 0.102, 0.068, 0.026]
d_base_hits = [0.3, 0.5, 0.8, 4.0, 4.3, 4.7, 5.0, 5.7, 6.1, 8.5, 13.2, 13.5, 15.1, 15.5, 17.4, 17.6, 27.7, 28.0, 28.7, 29.4, 29.8, 41.6, 53.1, 72.3, 75.1, 78.9, 80.3, 81.7, 93.9, 96.3]

d_bladder_x = [0, 0.3, 1.2, 2.6, 4.0, 5.7, 6.6, 8.5, 9.9, 11.3, 12.0, 13.4, 15.1, 17.6, 21.0, 22.4, 24.5, 29.4, 32.9, 39.9, 46.8, 53.8, 60.8, 67.7, 74.7, 81.7, 88.6, 92.8, 95.6, 98.4, 100]
d_bladder_es = [0, 0.057, 0.185, 0.260, 0.291, 0.313, 0.377, 0.403, 0.451, 0.462, 0.485, 0.526, 0.549, 0.536, 0.526, 0.541, 0.528, 0.494, 0.462, 0.389, 0.321, 0.249, 0.183, 0.119, 0.077, 0.045, 0.015, -0.002, -0.001, 0.020, 0]
d_bladder_hits = [0.1, 1.2, 3.6, 5.4, 5.7, 6.1, 6.4, 8.5, 8.9, 11.6, 12.0, 12.3, 12.7, 13.4, 15.5, 20.0, 21.4, 22.4, 31.4, 34.6, 35.1, 35.7, 36.4, 50.3, 55.9, 62.2, 63.9, 64.3, 69.1, 69.8, 70.2, 75.4, 76.1, 77.9, 78.2, 83.4, 85.9, 88.6, 92.5, 95.6]

d_dnarep_x = [0, 0.5, 1.4, 2.2, 3.3, 5.0, 6.1, 7.8, 9.9, 12.3, 14.1, 15.5, 16.9, 19.7, 22.4, 25.9, 32.9, 39.9, 46.8, 53.8, 60.8, 67.7, 75.4]
d_dnarep_es = [0, 0.164, 0.355, 0.398, 0.430, 0.547, 0.605, 0.634, 0.643, 0.621, 0.674, 0.717, 0.733, 0.731, 0.715, 0.690, 0.638, 0.585, 0.530, 0.470, 0.405, 0.336, 0.262]
d_dnarep_hits = [0.3, 0.5, 0.8, 1.2, 1.5, 1.9, 2.2, 2.6, 2.9, 3.3, 3.6, 4.0, 4.3, 4.7, 5.0, 5.4, 5.7, 6.1, 7.2, 8.9, 12.7, 13.2, 13.7, 14.1, 14.8, 15.5, 15.8, 17.2, 20.0, 35.1, 38.1, 44.0, 44.4, 45.1, 45.8, 46.1, 52.3, 60.1, 75.4]

d_drug_x = [6.4, 12.0, 19.0, 25.9, 32.9, 39.9, 46.8, 53.8, 60.8, 67.7, 74.7, 80.3, 81.7, 85.2, 87.9, 88.6, 90.0, 91.4, 92.8, 94.2, 95.6, 96.4, 97.1, 98.0, 98.7, 99.4, 100]
d_drug_es = [-0.022, -0.009, -0.030, -0.081, -0.136, -0.196, -0.251, -0.306, -0.363, -0.421, -0.490, -0.560, -0.551, -0.560, -0.570, -0.549, -0.538, -0.509, -0.485, -0.411, -0.326, -0.283, -0.230, -0.198, -0.123, -0.017, 0]
d_drug_hits = [6.8, 8.2, 9.5, 12.0, 13.0, 14.1, 15.5, 24.2, 33.2, 44.4, 45.4, 50.3, 51.0, 58.3, 62.2, 62.9, 63.9, 65.6, 67.4, 68.4, 69.8, 70.5, 72.3, 73.0, 74.7, 76.8, 78.2, 79.6, 81.0, 82.4, 83.8, 84.8, 85.9, 87.0, 88.0, 89.4, 90.4, 91.5, 92.2, 92.9, 93.6, 94.3, 95.0, 95.6, 96.3, 97.0, 97.7, 98.4, 99.1, 99.8]

d_fatty_x = [0, 5.0, 9.2, 11.3, 14.1, 17.6, 22.4, 25.9, 32.9, 39.9, 46.8, 53.8, 60.8, 67.7, 74.7, 78.9, 81.7, 85.2, 88.6, 91.4, 93.2, 94.4, 95.1, 95.8, 96.4, 97.1, 97.8, 98.5, 99.1, 99.6, 100]
d_fatty_es = [0, -0.030, -0.065, -0.054, -0.049, -0.054, -0.083, -0.104, -0.157, -0.211, -0.260, -0.317, -0.379, -0.432, -0.487, -0.526, -0.565, -0.583, -0.602, -0.602, -0.591, -0.562, -0.496, -0.443, -0.411, -0.363, -0.283, -0.209, -0.102, -0.028, 0]
d_fatty_hits = [6.8, 10.9, 11.6, 14.1, 23.1, 25.9, 28.4, 35.0, 41.1, 41.3, 45.4, 45.8, 51.0, 56.9, 58.0, 60.8, 62.5, 71.9, 73.0, 75.1, 83.1, 84.1, 88.6, 90.7, 91.4, 92.5, 93.2, 93.9, 94.6, 95.3, 96.0, 96.7, 97.4, 98.1, 98.8, 99.4]

d_xeno_x = [6.8, 7.2, 9.2, 12.0, 15.5, 19.0, 25.9, 32.9, 39.9, 46.8, 53.8, 60.8, 67.7, 74.7, 81.0, 82.0, 85.2, 87.2, 88.6, 91.4, 92.8, 93.9, 94.9, 95.7, 96.4, 97.4, 98.7, 99.4, 100]
d_xeno_es = [-0.038, -0.015, -0.006, -0.012, -0.017, -0.033, -0.083, -0.136, -0.198, -0.253, -0.310, -0.366, -0.427, -0.490, -0.557, -0.547, -0.554, -0.562, -0.526, -0.506, -0.485, -0.413, -0.379, -0.349, -0.326, -0.262, -0.198, -0.070, 0]
d_xeno_hits = [6.8, 8.2, 9.5, 14.1, 15.5, 22.8, 33.2, 44.4, 45.4, 46.1, 49.6, 51.0, 58.3, 61.8, 67.4, 68.8, 70.5, 71.9, 73.0, 74.0, 75.4, 77.1, 78.5, 79.9, 81.0, 82.0, 83.1, 84.5, 85.9, 87.3, 88.3, 89.4, 90.4, 91.5, 92.5, 93.2, 93.9, 94.9, 95.6, 96.3, 97.0, 97.7, 98.4, 99.1, 99.8]

d_ecoli_x = [0, 0.1, 0.8, 2.2, 3.3, 4.0, 5.0, 5.9, 8.5, 12.0, 15.5, 19.0, 22.4, 25.9, 29.4, 35.7, 36.7, 39.9, 46.8, 53.8, 60.8, 67.7, 74.7, 78.9, 83.1, 87.6, 88.1, 92.1, 97.0]
d_ecoli_es = [0, 0.068, 0.164, 0.190, 0.249, 0.313, 0.430, 0.579, 0.566, 0.547, 0.531, 0.536, 0.515, 0.485, 0.451, 0.398, 0.411, 0.387, 0.332, 0.300, 0.244, 0.180, 0.111, 0.089, 0.070, 0.031, 0.077, 0.066, 0.034]
d_ecoli_hits = [0, 0.5, 2.2, 2.6, 2.9, 4.0, 4.3, 4.7, 5.0, 5.4, 5.7, 13.4, 14.8, 17.9, 18.3, 21.0, 27.3, 27.7, 36.2, 36.5, 39.2, 45.8, 46.1, 47.5, 47.9, 49.3, 51.0, 53.1, 53.5, 54.5, 58.7, 59.7, 62.2, 64.6, 72.3, 74.4, 74.7, 77.5, 78.5, 81.3, 82.4, 86.9, 87.3, 88.0, 90.0, 93.5, 97.0]

d_proteasome_x = [0, 0.5, 1.5, 2.9, 3.8, 5.0, 6.4, 8.5, 9.5, 10.6, 11.6, 13.4, 16.9, 21.7, 23.8, 25.9, 29.4, 32.9, 36.4, 39.9, 43.3, 46.8, 50.3, 53.8, 60.8, 67.7, 74.7, 78.5]
d_proteasome_es = [0, 0.047, 0.249, 0.398, 0.483, 0.526, 0.557, 0.573, 0.632, 0.653, 0.680, 0.664, 0.648, 0.621, 0.648, 0.643, 0.621, 0.600, 0.591, 0.577, 0.547, 0.515, 0.483, 0.460, 0.396, 0.323, 0.257, 0.217]
d_proteasome_hits = [0.5, 0.7, 0.9, 1.1, 1.3, 1.5, 1.7, 1.9, 2.2, 2.5, 2.8, 3.1, 3.3, 3.6, 4.0, 4.3, 4.7, 5.0, 5.7, 6.4, 8.2, 8.5, 8.9, 9.2, 9.8, 10.2, 10.9, 11.4, 16.3, 18.6, 21.7, 22.1, 22.8, 23.3, 24.2, 27.7, 31.4, 33.0, 33.9, 35.3, 37.4, 38.6, 49.1, 49.6, 50.7, 54.2, 56.0, 73.3, 78.5]

d_pyrimidine_x = [0, 0.1, 0.8, 1.5, 2.9, 4.3, 5.7, 7.1, 8.5, 9.5, 10.6, 12.0, 13.4, 15.1, 19.0, 21.0, 22.1, 25.9, 29.4, 32.9, 36.4, 39.9, 46.8, 53.8, 60.8, 67.7, 74.7, 81.7, 88.6, 92.1, 94.2, 95.6, 97.7, 98.7, 100]
d_pyrimidine_es = [0, 0.036, 0.127, 0.174, 0.212, 0.249, 0.291, 0.334, 0.377, 0.419, 0.451, 0.462, 0.483, 0.513, 0.499, 0.502, 0.520, 0.494, 0.472, 0.456, 0.462, 0.430, 0.377, 0.313, 0.249, 0.183, 0.119, 0.057, 0.013, -0.017, -0.030, -0.026, 0.002, 0.017, 0]
d_pyrimidine_hits = [0.1, 0.3, 0.6, 0.8, 1.2, 1.5, 1.9, 2.2, 2.6, 2.9, 3.3, 3.6, 4.0, 4.3, 4.7, 5.0, 5.4, 5.7, 6.1, 6.4, 6.8, 7.1, 7.5, 7.8, 8.2, 8.5, 8.9, 9.2, 9.5, 9.9, 10.2, 10.6, 11.6, 12.0, 12.7, 13.4, 14.1, 14.8, 15.1, 17.2, 17.9, 19.0, 20.0, 21.4, 21.7, 22.4, 23.8, 27.3, 28.0, 29.1, 29.8, 33.2, 33.6, 34.3, 35.3, 38.5, 39.5, 40.2, 44.0, 44.7, 49.3, 50.3, 52.4, 53.5, 55.6, 61.5, 63.3, 67.4, 68.1, 70.5, 73.3, 75.4, 76.8, 79.2, 81.0, 83.1, 83.8, 84.8, 85.9, 87.3, 89.0, 90.0, 93.2, 94.6, 95.6, 96.3, 97.0, 97.7, 98.0]

PALETTE = ["#4FC8DA", "#7A1B36", "#5B93C3", "#40184A", "#9A652E", "#6B5B9E",
           "#E6397E", "#D7D24B", "#604A63", "#77C764", "#21406F"]

fig = plt.figure(figsize=(FIG_W / 100, FIG_H / 100), dpi=100)


def px_box(left, top, right, bottom):
    return [left / FIG_W, 1 - bottom / FIG_H, (right - left) / FIG_W, (bottom - top) / FIG_H]


def draw_panel(letter, sets, left, right, top, bottom, rug_top, rug_bottom, ylim, yticks, ylabels):
    ax = fig.add_axes(px_box(left, top, right, bottom))
    for i, (name, xs, es, hits) in enumerate(sets):
        ax.plot(xs, es, color=PALETTE[i], lw=4.2, solid_capstyle='butt',
                solid_joinstyle='round', zorder=2 + i, clip_on=False)
    ax.axhline(0, color='black', lw=1.9, zorder=20)
    ax.set_xlim(0, 100)
    ax.set_ylim(*ylim)
    for side in ['top', 'right', 'bottom']:
        ax.spines[side].set_visible(False)
    ax.spines['left'].set_linewidth(1.6)
    ax.set_xticks([])
    ax.set_yticks(yticks)
    ax.set_yticklabels(ylabels, fontsize=12, color='#4D4D4D')
    ax.tick_params(axis='y', length=5, width=1.1, color='#4D4D4D', pad=1.5)

    handles = [Line2D([], [], color=PALETTE[i], lw=5) for i in range(len(sets))]
    names = [s[0] for s in sets]
    bx = 13 / (right - left)
    by = 13 / (bottom - top)
    leg = ax.legend(handles, names, loc='lower left', bbox_to_anchor=(bx, by),
                    frameon=False, fontsize=12, handlelength=1.32, handletextpad=0.78,
                    labelspacing=0.71, borderpad=0, borderaxespad=0)
    leg.set_zorder(30)

    fig.text((left - 57.5) / FIG_W, 1 - (top + bottom) / 2 / FIG_H, 'Enrichment Score',
             rotation=90, ha='center', va='center', fontsize=15)

    rax = fig.add_axes(px_box(left, rug_top, right, rug_bottom))
    for i, (name, xs, es, hits) in enumerate(sets):
        rax.vlines(hits, i + 0.03, i + 0.97, colors=PALETTE[i], lw=1.1, alpha=0.75)
    rax.set_xlim(0, 100)
    rax.set_ylim(0, len(sets))
    for side in ['top', 'right', 'left']:
        rax.spines[side].set_visible(False)
    rax.spines['bottom'].set_linewidth(2.2)
    rax.set_xticks([])
    rax.set_yticks([])

    fig.text((left + right) / 2 / FIG_W, 1 - (rug_bottom + 15) / FIG_H,
             'high expression<----------->low expression', ha='center', va='center', fontsize=17.2)
    fig.text((left - 60) / FIG_W, 1 - (top - 59) / FIG_H, letter, fontsize=33,
             ha='left', va='top')


sets_a = [
    ('KEGG_CALCIUM_SIGNALING_PATHWAY', a_calcium_x, a_calcium_es, a_calcium_hits),
    ('KEGG_CELL_CYCLE', a_cellcycle_x, a_cellcycle_es, a_cellcycle_hits),
    ('KEGG_DILATED_CARDIOMYOPATHY', a_dilated_x, a_dilated_es, a_dilated_hits),
    ('KEGG_DNA_REPLICATION', a_dnarep_x, a_dnarep_es, a_dnarep_hits),
    ('KEGG_HYPERTROPHIC_CARDIOMYOPATHY_HCM', a_hcm_x, a_hcm_es, a_hcm_hits),
    ('KEGG_NEUROACTIVE_LIGAND_RECEPTOR_INTERACTION', a_neuro_x, a_neuro_es, a_neuro_hits),
    ('KEGG_P53_SIGNALING_PATHWAY', a_p53_x, a_p53_es, a_p53_hits),
    ('KEGG_PROTEASOME', a_proteasome_x, a_proteasome_es, a_proteasome_hits),
    ('KEGG_RNA_DEGRADATION', a_rnadeg_x, a_rnadeg_es, a_rnadeg_hits),
    ('KEGG_SPLICEOSOME', a_splice_x, a_splice_es, a_splice_hits),
]
sets_b = [
    ('KEGG_AMINOACYL_TRNA_BIOSYNTHESIS', b_aminoacyl_x, b_aminoacyl_es, b_aminoacyl_hits),
    ('KEGG_CELL_ADHESION_MOLECULES_CAMS', b_celladh_x, b_celladh_es, b_celladh_hits),
    ('KEGG_CELL_CYCLE', b_cellcycle_x, b_cellcycle_es, b_cellcycle_hits),
    ('KEGG_DNA_REPLICATION', b_dnarep_x, b_dnarep_es, b_dnarep_hits),
    ('KEGG_JAK_STAT_SIGNALING_PATHWAY', b_jak_x, b_jak_es, b_jak_hits),
    ('KEGG_P53_SIGNALING_PATHWAY', b_p53_x, b_p53_es, b_p53_hits),
    ('KEGG_PROTEASOME', b_proteasome_x, b_proteasome_es, b_proteasome_hits),
    ('KEGG_RNA_DEGRADATION', b_rnadeg_x, b_rnadeg_es, b_rnadeg_hits),
    ('KEGG_SMALL_CELL_LUNG_CANCER', b_smallcell_x, b_smallcell_es, b_smallcell_hits),
    ('KEGG_UBIQUITIN_MEDIATED_PROTEOLYSIS', b_ubiq_x, b_ubiq_es, b_ubiq_hits),
    ('KEGG_VEGF_SIGNALING_PATHWAY', b_vegf_x, b_vegf_es, b_vegf_hits),
]
sets_c = [
    ('KEGG_BASAL_CELL_CARCINOMA', c_basal_x, c_basal_es, c_basal_hits),
    ('KEGG_CALCIUM_SIGNALING_PATHWAY', c_calcium_x, c_calcium_es, c_calcium_hits),
    ('KEGG_CELL_CYCLE', c_cellcycle_x, c_cellcycle_es, c_cellcycle_hits),
    ('KEGG_DNA_REPLICATION', c_dnarep_x, c_dnarep_es, c_dnarep_hits),
    ('KEGG_NEUROACTIVE_LIGAND_RECEPTOR_INTERACTION', c_neuro_x, c_neuro_es, c_neuro_hits),
    ('KEGG_P53_SIGNALING_PATHWAY', c_p53_x, c_p53_es, c_p53_hits),
    ('KEGG_PROTEASOME', c_proteasome_x, c_proteasome_es, c_proteasome_hits),
    ('KEGG_RNA_DEGRADATION', c_rnadeg_x, c_rnadeg_es, c_rnadeg_hits),
    ('KEGG_SPLICEOSOME', c_splice_x, c_splice_es, c_splice_hits),
    ('KEGG_VASCULAR_SMOOTH_MUSCLE_CONTRACTION', c_vascular_x, c_vascular_es, c_vascular_hits),
]
sets_d = [
    ('KEGG_BASE_EXCISION_REPAIR', d_base_x, d_base_es, d_base_hits),
    ('KEGG_BLADDER_CANCER', d_bladder_x, d_bladder_es, d_bladder_hits),
    ('KEGG_DNA_REPLICATION', d_dnarep_x, d_dnarep_es, d_dnarep_hits),
    ('KEGG_DRUG_METABOLISM_CYTOCHROME_P450', d_drug_x, d_drug_es, d_drug_hits),
    ('KEGG_FATTY_ACID_METABOLISM', d_fatty_x, d_fatty_es, d_fatty_hits),
    ('KEGG_METABOLISM_OF_XENOBIOTICS_BY_CYTOCHROME_P450', d_xeno_x, d_xeno_es, d_xeno_hits),
    ('KEGG_PATHOGENIC_ESCHERICHIA_COLI_INFECTION', d_ecoli_x, d_ecoli_es, d_ecoli_hits),
    ('KEGG_PROTEASOME', d_proteasome_x, d_proteasome_es, d_proteasome_hits),
    ('KEGG_PYRIMIDINE_METABOLISM', d_pyrimidine_x, d_pyrimidine_es, d_pyrimidine_hits),
]

draw_panel('A', sets_a, 67, 936, 62.5, 524, 609, 734, (-0.555, 0.943), [-0.5, 0.0, 0.5], ['-0.5', '0.0', '0.5'])
draw_panel('B', sets_b, 1077.5, 1946, 62.5, 524, 609, 734, (-0.843, 0.608), [-0.5, 0.0, 0.5], ['-0.5', '0.0', '0.5'])
draw_panel('C', sets_c, 67, 936, 871, 1333, 1417, 1543, (-0.592, 0.903), [-0.5, 0.0, 0.5], ['-0.5', '0.0', '0.5'])
draw_panel('D', sets_d, 1077.5, 1946, 871, 1333, 1417, 1543, (-0.623, 0.752), [-0.4, 0.0, 0.4], ['-0.4', '0.0', '0.4'])

fig.savefig('out.png', dpi=100)
